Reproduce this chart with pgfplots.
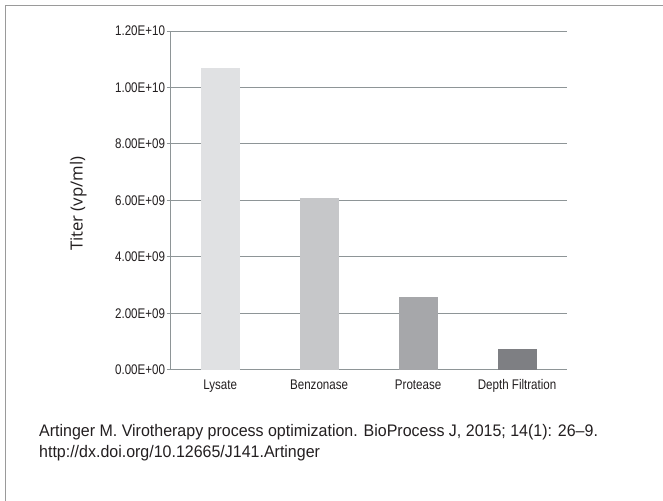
\documentclass[border=0pt]{standalone}
\usepackage{fontspec}
\setmainfont{Liberation Sans}
\newfontfamily\condfont{Liberation Sans}[FakeStretch=0.83]
\newfontfamily\citefont{Liberation Sans}[FakeStretch=0.955]
\newfontfamily\labelfont{Open Sans}
\usepackage{pgfplots}
\pgfplotsset{compat=1.18}
\definecolor{gridc}{HTML}{8E9597}
\definecolor{frame}{HTML}{9A9A9A}
\definecolor{cA}{HTML}{E0E1E3}
\definecolor{cB}{HTML}{C6C7C9}
\definecolor{cC}{HTML}{A6A7AA}
\definecolor{cD}{HTML}{7E7F83}
\definecolor{txt}{HTML}{231F20}
\begin{document}
\begin{tikzpicture}[x=1bp,y=1bp]
\useasboundingbox (0,0) rectangle (663,501);
\fill[white] (0,0) rectangle (663,501);
\draw[frame, line width=1.5bp] (5.3,-2) -- (5.3,495.3) -- (670,495.3);
\begin{axis}[
  at={(170.6bp,131.3bp)}, anchor=south west,
  scale only axis, width=396bp, height=338.7bp,
  xmin=-0.5, xmax=3.5, ymin=0, ymax=1.2e10,
  scaled y ticks=false,
  axis lines*=left,
  axis line style={gridc, line width=0.8bp},
  ytick={0,2e9,4e9,6e9,8e9,1e10,1.2e10},
  yticklabels={0.00E+00,2.00E+09,4.00E+09,6.00E+09,8.00E+09,1.00E+10,1.20E+10},
  ymajorgrids, grid style={gridc, line width=0.8bp},
  y tick style={gridc, line width=0.8bp},
  tick align=outside, major tick length=4bp,
  xtick={0,1,2,3},
  xticklabels={Lysate,Benzonase,Protease,Depth Filtration},
  x tick style={draw=none},
  extra x ticks={-0.5}, extra x tick labels={},
  extra x tick style={x tick style={gridc, line width=0.8bp}, major tick length=5bp},
  tick label style={font=\condfont\fontsize{14}{16}\selectfont, text=txt},
  yticklabel style={inner sep=0pt, xshift=-1.4bp},
  xticklabel style={anchor=base, inner sep=0pt, yshift=-16bp},
  ylabel={Titer (vp/ml)},
  ylabel style={at={(axis description cs:-0.233,0.49)}, anchor=center, rotate=0, font=\labelfont\fontsize{16.8}{18}\selectfont, text=txt},
  ybar, bar width=0.395, bar shift=0pt,
  clip=false,
]
\addplot[fill=cA, draw=none] coordinates {(0,1.069e10)};
\addplot[fill=cB, draw=none] coordinates {(1,6.09e9)};
\addplot[fill=cC, draw=none] coordinates {(2,2.58e9)};
\addplot[fill=cD, draw=none] coordinates {(3,0.74e9)};
\end{axis}
\node[anchor=base west, align=left, inner sep=0pt, text=txt, font=\citefont\fontsize{16.8}{21}\selectfont] at (39,501-457.7)
 {Artinger M. Virotherapy process optimization. BioProcess J, 2015; 14(1): 26–9.\\http://dx.doi.org/10.12665/J141.Artinger};
\end{tikzpicture}
\end{document}
